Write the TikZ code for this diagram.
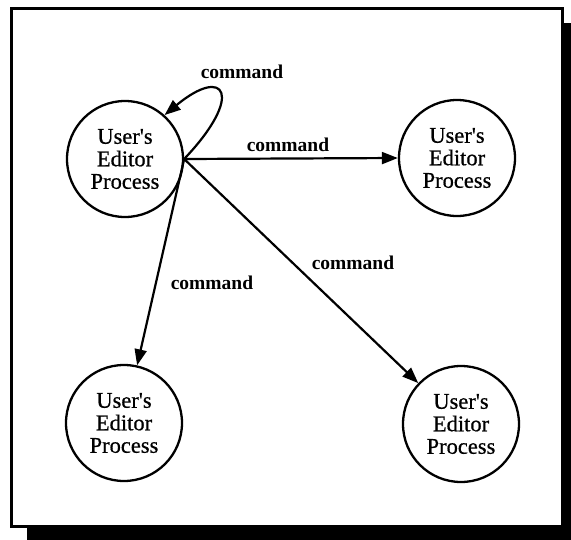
\documentclass[tikz,border=0pt]{standalone}
\usepackage{fontspec}
\newfontfamily\refserif{Liberation Serif}[FakeBold=0.6]
\newfontfamily\refserifb{Liberation Serif Bold}
\usetikzlibrary{arrows.meta}
\begin{document}
\begin{tikzpicture}[x=1pt,y=-1pt,
  proc/.style={circle,draw,line width=2.3pt,minimum size=116pt,inner sep=0pt,
    align=center,font=\refserif\fontsize{22.5}{22.5}\selectfont},
  lbl/.style={font=\refserifb\fontsize{19.5}{20}\selectfont,inner sep=0pt},
  edge/.style={line width=2.2pt,-{Triangle[length=16pt,width=12pt]}}]
\useasboundingbox (0,0) rectangle (571,539);
\clip (0,0) rectangle (571,539);
\fill[black] (27,23) rectangle (580,545);
\draw[line width=3pt,fill=white] (11,8) rectangle (562,526);
\node[proc] (a) at (125,159) {User's\\Editor\\Process};
\node[proc] (b) at (457,158) {User's\\Editor\\Process};
\node[proc] (c) at (124,423) {User's\\Editor\\Process};
\node[proc] (d) at (461,424) {User's\\Editor\\Process};
\coordinate (s) at (a.east);
\draw[edge] (s) .. controls (245,95) and (225,65) .. (a.48);
\draw[edge] (s) -- (b.west);
\draw[edge] (s) -- (c);
\draw[edge] (s) -- (d);
\node[lbl] (l1) at (242,72) {command};
\node[lbl] (l2) at (288,145) {command};
\node[lbl] (l3) at (212,283) {command};
\node[lbl] (l4) at (353,263) {command};
\end{tikzpicture}
\end{document}
